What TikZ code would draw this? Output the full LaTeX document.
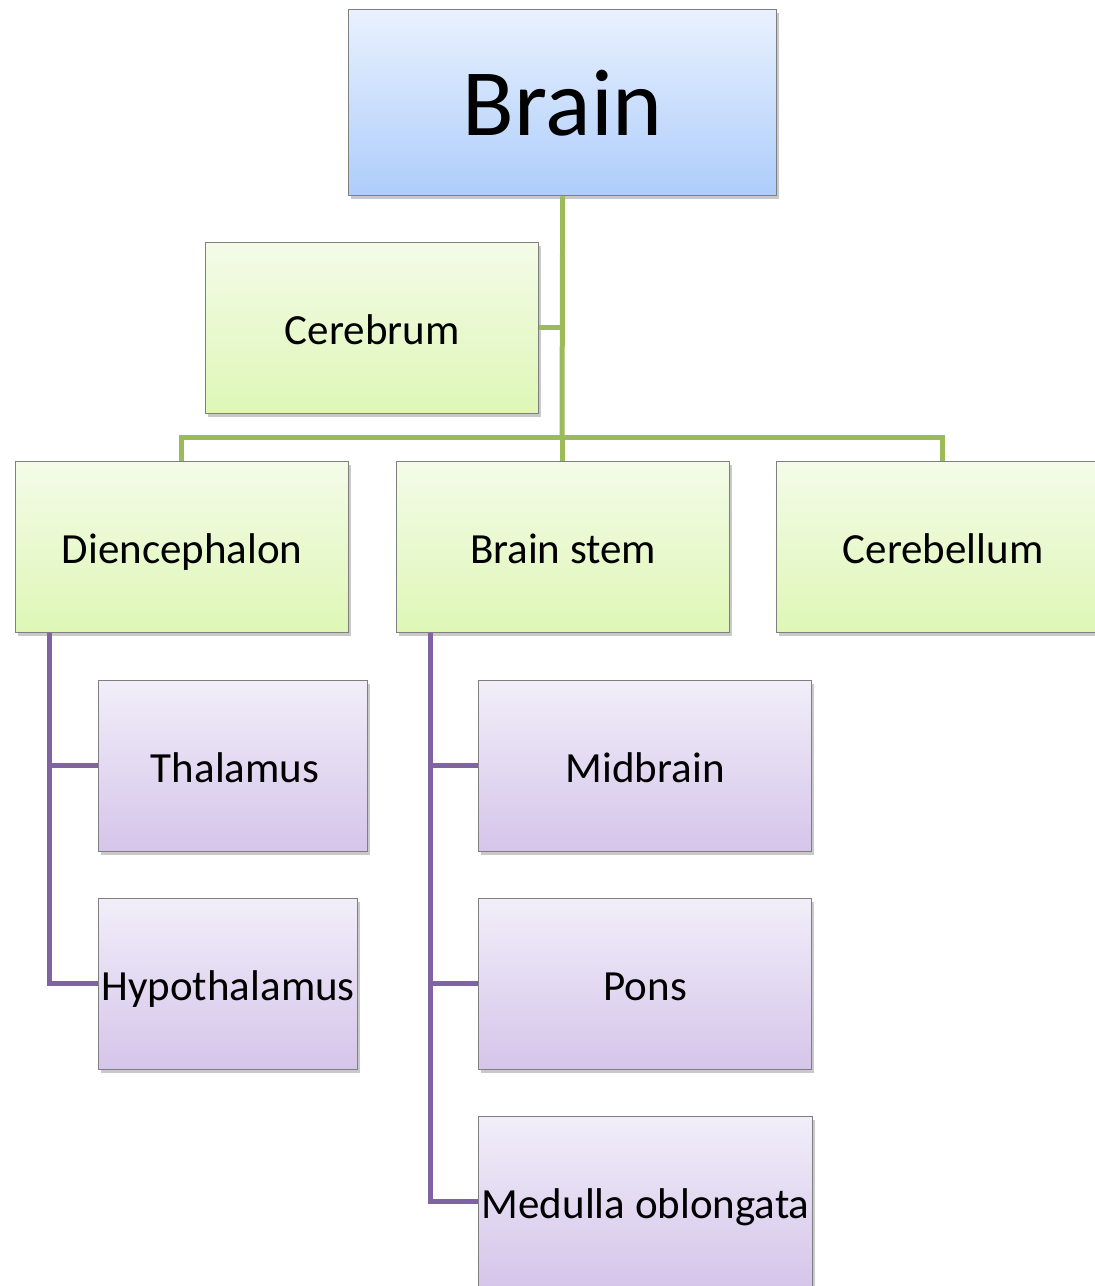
\documentclass[tikz,border=0pt]{standalone}
\usepackage{fontspec}
\setmainfont{Carlito}
\usetikzlibrary{shadows}
\definecolor{gtop}{HTML}{F4FBE8}
\definecolor{gbot}{HTML}{DEF7B6}
\definecolor{btop}{HTML}{E9F1FE}
\definecolor{bbot}{HTML}{ADCDFB}
\definecolor{ptop}{HTML}{F1EEF9}
\definecolor{pbot}{HTML}{D5C5EA}
\definecolor{gline}{HTML}{9BBB59}
\definecolor{pline}{HTML}{8064A2}
\definecolor{bord}{HTML}{7F7F7F}
\tikzset{
  boxbase/.style={draw=bord, line width=1.3pt, inner sep=0pt, anchor=north west,
    drop shadow={shadow xshift=2pt, shadow yshift=-3pt, opacity=0.35, fill=black!60}},
  greenbox/.style={boxbase, top color=gtop, bottom color=gbot},
  bluebox/.style={boxbase, top color=btop, bottom color=bbot},
  purplebox/.style={boxbase, top color=ptop, bottom color=pbot},
  gconn/.style={draw=gline, line width=5pt},
  pconn/.style={draw=pline, line width=5pt},
  lbl/.style={font=\fontsize{43}{52}\selectfont, inner sep=0pt, anchor=base},
  biglbl/.style={font=\fontsize{95}{114}\selectfont, inner sep=0pt, anchor=base},
}
\begin{document}
\begin{tikzpicture}[x=1pt,y=-1pt]
\clip (0,0) rectangle (1095,1286);
\fill[white] (0,0) rectangle (1095,1286);
\coordinate (jc) at (562,327);
\coordinate (jb) at (562,437);
\coordinate (jl) at (181,437);
\coordinate (jr) at (942,437);
% boxes
\node[bluebox, minimum width=428pt, minimum height=186pt] (brain) at (348,9) {};
\node[greenbox, minimum width=333pt, minimum height=171pt] (cerebrum) at (205,242) {};
\node[greenbox, minimum width=333pt, minimum height=171pt] (dien) at (15,461) {};
\node[greenbox, minimum width=333pt, minimum height=171pt] (stem) at (396,461) {};
\node[greenbox, minimum width=333pt, minimum height=171pt] (cereb) at (776,461) {};
\node[purplebox, minimum width=269pt, minimum height=171pt] (thal) at (98,680) {};
\node[purplebox, minimum width=259pt, minimum height=171pt] (hypo) at (98,898) {};
\node[purplebox, minimum width=333pt, minimum height=171pt] (mid) at (478,680) {};
\node[purplebox, minimum width=333pt, minimum height=171pt] (pons) at (478,898) {};
\node[purplebox, minimum width=334pt, minimum height=171pt] (med) at (478,1116) {};
% labels
\node[biglbl] (brainlbl) at ([yshift=-33pt]brain.center) {Brain};
\node[lbl] (l1) at ([yshift=-16pt]cerebrum.center) {Cerebrum};
\node[lbl] (l2) at ([yshift=-16pt]dien.center) {Diencephalon};
\node[lbl] (l3) at ([yshift=-16pt]stem.center) {Brain stem};
\node[lbl] (l4) at ([yshift=-16pt]cereb.center) {Cerebellum};
\node[lbl] (l5) at ([xshift=2pt,yshift=-16pt]thal.center) {Thalamus};
\node[lbl] (l6) at ([yshift=-16pt]hypo.center) {Hypothalamus};
\node[lbl] (l7) at ([yshift=-16pt]mid.center) {Midbrain};
\node[lbl] (l8) at ([yshift=-16pt]pons.center) {Pons};
\node[lbl] (l9) at ([yshift=-16pt]med.center) {Medulla oblongata};
% green connectors
\draw[gconn] (brain.south) -- (jb);
\draw[gconn] (cerebrum.east |- jc) -- (jc);
\draw[gconn, line join=miter] (dien.north -| jl) -- (jl) -- (jr) -- (cereb.north -| jr);
\draw[gconn] (jb) -- (stem.north -| jb);
% purple connectors
\coordinate (dv) at (49,631);
\draw[pconn, line join=miter] (dien.south -| dv) -- (49,983) -- (hypo.west |- 0,983);
\draw[pconn] (49,765) -- (thal.west |- 0,765);
\coordinate (sv) at (430,631);
\draw[pconn, line join=miter] (stem.south -| sv) -- (430,1201) -- (med.west |- 0,1201);
\draw[pconn] (430,765) -- (mid.west |- 0,765);
\draw[pconn] (430,983) -- (pons.west |- 0,983);
\end{tikzpicture}
\end{document}
